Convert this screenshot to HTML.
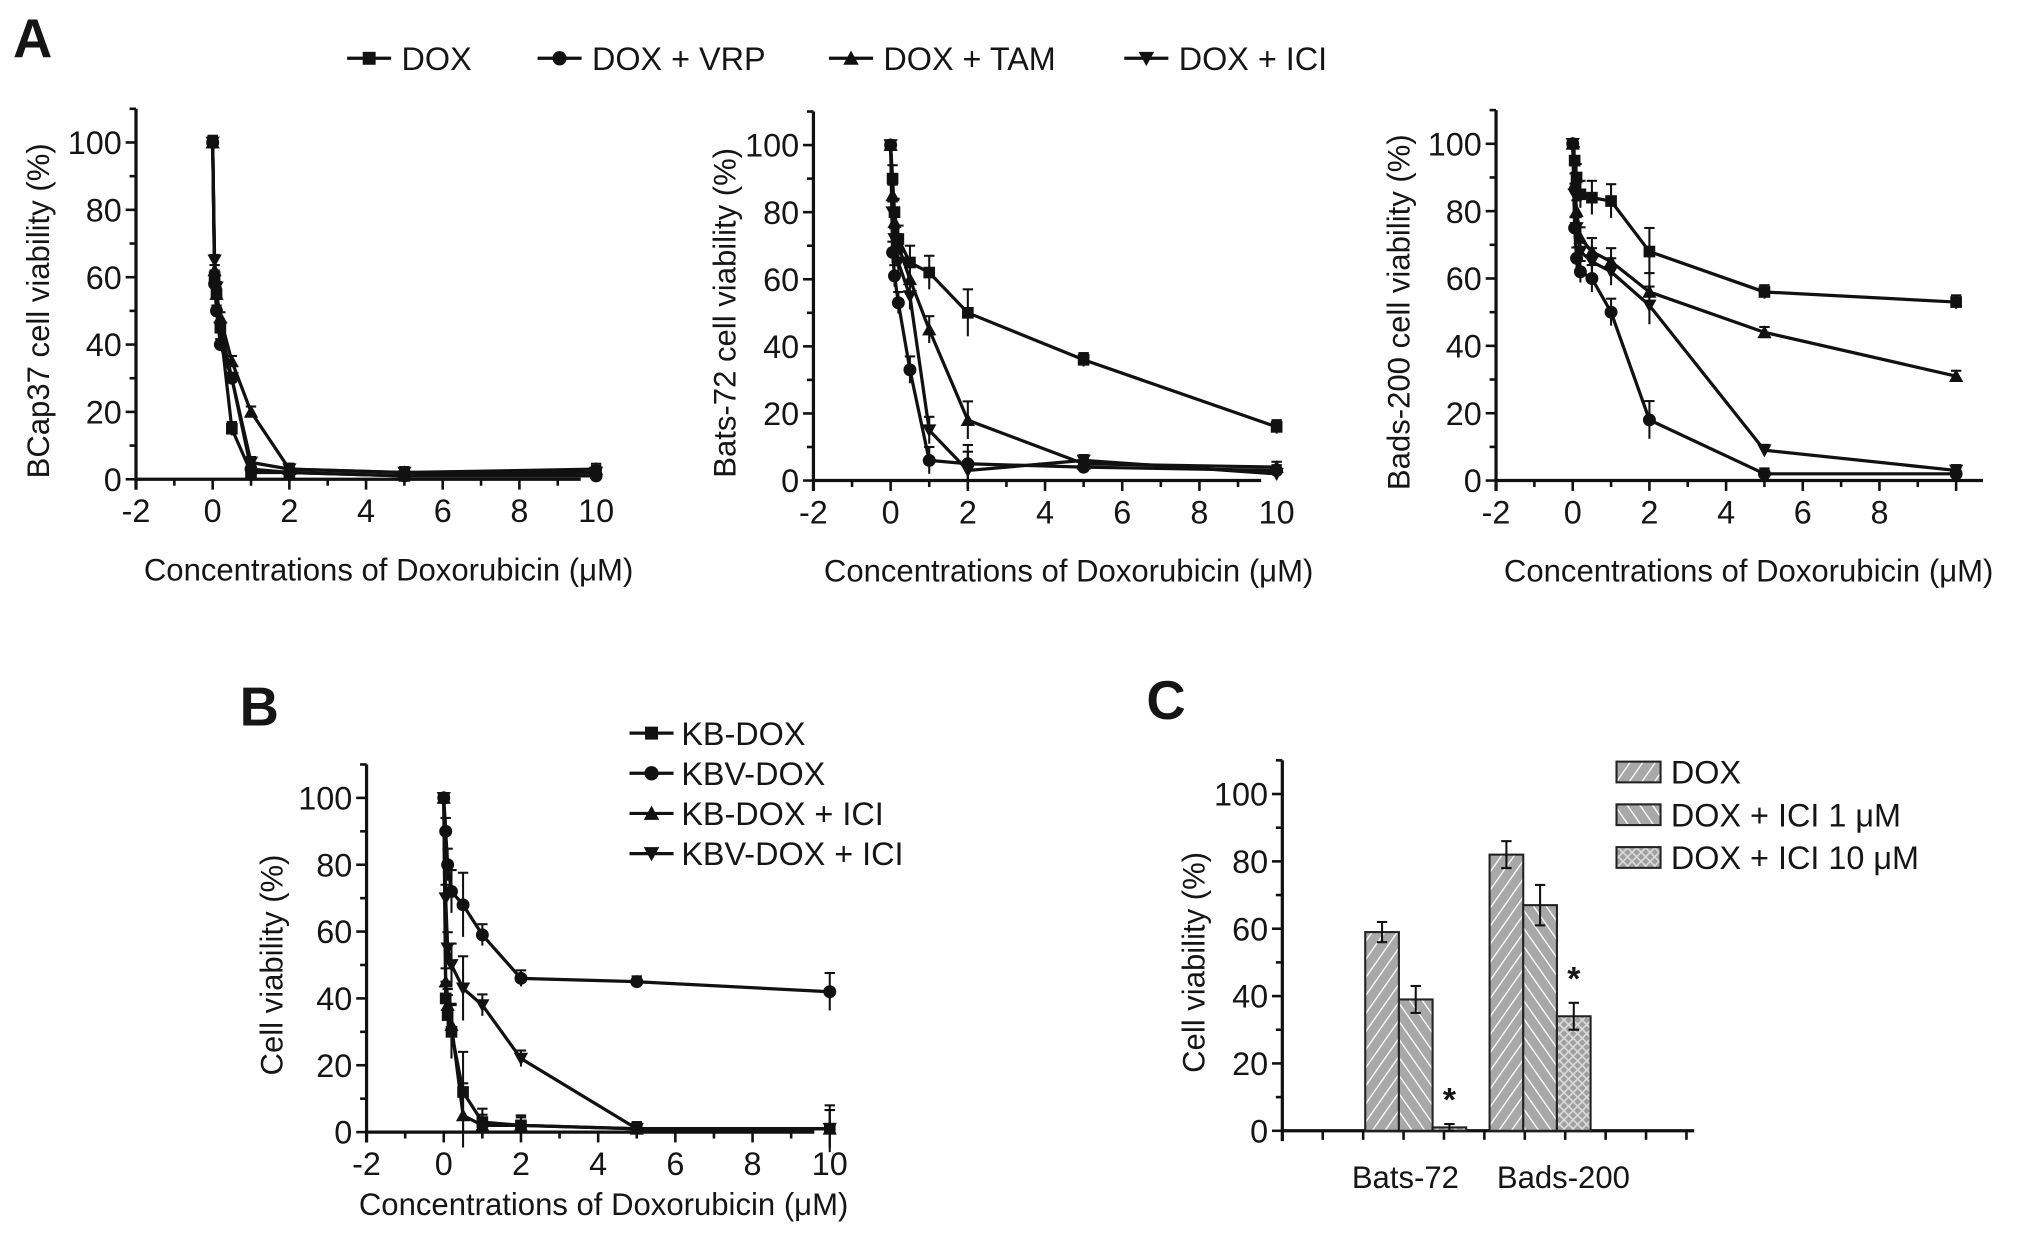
<!DOCTYPE html>
<html><head><meta charset="utf-8"><style>
html,body{margin:0;padding:0;background:#fff}
svg{display:block}
text{font-family:"Liberation Sans",Arial,sans-serif;fill:#151515}
</style></head><body>
<svg id="fig" width="2031" height="1237" viewBox="0 0 1568 955" xmlns="http://www.w3.org/2000/svg">
<defs>
<pattern id="h1" width="8" height="8" patternUnits="userSpaceOnUse" patternTransform="rotate(35)"><rect width="8" height="8" fill="#a8a8a8"/><line x1="0" y1="0" x2="0" y2="8" stroke="#fff" stroke-width="2"/></pattern>
<pattern id="h2" width="8" height="8" patternUnits="userSpaceOnUse" patternTransform="rotate(-35)"><rect width="8" height="8" fill="#a8a8a8"/><line x1="0" y1="0" x2="0" y2="8" stroke="#fff" stroke-width="2"/></pattern>
<pattern id="h3" width="7" height="7" patternUnits="userSpaceOnUse"><rect width="7" height="7" fill="#a0a0a0"/><path d="M0 0L7 7M7 0L0 7" stroke="#ddd" stroke-width="1.2"/></pattern>
</defs>
</svg>
<script>
const conc=[0,0.05,0.1,0.2,0.5,1,2,5,10];
const a1Dox=[100,60,55,45,15,2,2,1,2];
const a1Vrp=[100,58,50,40,30,3,2,1,1];
const a1Tam=[100,62,55,48,35,20,3,2,3];
const a1Ici=[100,65,57,45,30,5,3,2,2];
const a2Dox=[100,90,80,72,65,62,50,36,16];
const a2Vrp=[100,68,61,53,33,6,5,4,3];
const a2Tam=[100,85,77,70,60,45,18,5,4];
const a2Ici=[100,80,72,65,55,15,3,6,2];
const a3Dox=[100,95,90,85,84,83,68,56,53];
const a3Vrp=[100,75,66,62,60,50,18,2,2];
const a3Tam=[100,88,80,72,68,65,56,44,31];
const a3Ici=[100,85,75,68,65,62,52,9,3];
const bKb=[100,40,35,30,12,3,2,1,1];
const bKbv=[100,90,80,72,68,59,46,45,42];
const bKbIci=[100,45,38,32,5,2,2,1,1];
const bKbvIci=[100,70,55,50,43,38,22,1,1];
const a2Err=[0,4,4,4,5,5,7,2,2];
const bErr=[0,5,6,8,12,4,3,2,7];
const cGroups=["Bats-72","Bads-200"];
const cDox=[59,82],cIci1=[39,67],cIci10=[1,34];
const cErrDox=[3,4],cErrIci1=[4,6],cErrIci10=[1,4];
const xTicks=[-2,0,2,4,6,8,10];
const yTicks=[0,20,40,60,80,100];

const NS="http://www.w3.org/2000/svg";
const svg=document.getElementById('fig');
function el(t,a,p){const e=document.createElementNS(NS,t);for(const k in a)e.setAttribute(k,a[k]);(p||svg).appendChild(e);return e;}
function txt(s,a,p){const e=el('text',a,p);e.textContent=s;return e;}
function marker(g,shape,x,y,s){
  s=s||5;
  if(shape==='sq')return el('rect',{x:x-s,y:y-s,width:2*s,height:2*s,fill:'#111'},g);
  if(shape==='ci')return el('circle',{cx:x,cy:y,r:s+0.5,fill:'#111'},g);
  if(shape==='up')return el('polygon',{points:`${x},${y-s-1} ${x-s-1},${y+s} ${x+s+1},${y+s}`,fill:'#111'},g);
  return el('polygon',{points:`${x},${y+s+1} ${x-s-1},${y-s} ${x+s+1},${y-s}`,fill:'#111'},g);
}
function linePanel(o){
  const g=el('g',{});
  
  
  const X=v=>o.x0+(v+2)*o.ux, Y=v=>o.y0-v*o.uy;
  const xr=o.xr||11.6;
  el('line',{x1:X(-2),y1:o.y0,x2:X(xr-2),y2:o.y0,stroke:'#111','stroke-width':2.5},g);
  el('line',{x1:X(-2),y1:o.y0+8,x2:X(-2),y2:Y(110),stroke:'#111','stroke-width':2.5},g);
  for(let v=-2;v<=xr-2;v+=1){el('line',{x1:X(v),y1:o.y0,x2:X(v),y2:o.y0+(v%2===0?8:5),stroke:'#111','stroke-width':2},g);}
  for(let v=0;v<=110;v+=10){el('line',{x1:X(-2),y1:Y(v),x2:X(-2)-(v%20===0?8:5),y2:Y(v),stroke:'#111','stroke-width':2},g);}
  (o.xt||xTicks).forEach(t=>{const e=txt(String(t),{x:X(t),y:o.y0+33,'text-anchor':'middle','font-size':25},g);});
  yTicks.forEach(t=>{const e=txt(String(t),{x:X(-2)-11,y:Y(t)+9,'text-anchor':'end','font-size':25},g);});
  const xt=txt('Concentrations of Doxorubicin (μM)',{x:o.xtx,y:o.y0+(o.xto||78),'text-anchor':'middle','font-size':24},g);
  
  const yt=txt(o.ytitle,{x:0,y:0,'text-anchor':'middle','font-size':24,transform:`translate(${o.ytx},${Y(50)}) rotate(-90)`},g);
  
  o.series.forEach((s,i)=>{
    const sg=el('g',{},g);
    
    
    const pts=conc.map((c,j)=>X(c)+','+Y(s.v[j])).join(' ');
    el('polyline',{points:pts,fill:'none',stroke:'#111','stroke-width':2.5},sg);
    conc.forEach((c,j)=>{
      const e=(o.err?o.err[j]:2)*(i===0?1:0.8);
      if(e>0){el('line',{x1:X(c),y1:Y(s.v[j]-e),x2:X(c),y2:Y(s.v[j]+e),stroke:'#111','stroke-width':1.6},sg);
      el('line',{x1:X(c)-4,y1:Y(s.v[j]+e),x2:X(c)+4,y2:Y(s.v[j]+e),stroke:'#111','stroke-width':1.6},sg);}
      marker(sg,s.m,X(c),Y(s.v[j]),4.5);
    });
  });
}
const shapes=['sq','ci','up','dn'];
linePanel({name:'panel-a-bcap37',x0:105,y0:370,ux:29.6,uy:2.6,xtx:300,ytx:38,ytitle:'BCap37 cell viability (%)',
  series:[{label:'dox',v:a1Dox,m:'sq'},{label:'dox-vrp',v:a1Vrp,m:'ci'},{label:'dox-tam',v:a1Tam,m:'up'},{label:'dox-ici',v:a1Ici,m:'dn'}]});
linePanel({name:'panel-a-bats72',x0:628,y0:371,ux:29.8,uy:2.59,xtx:825,ytx:568,ytitle:'Bats-72 cell viability (%)',err:a2Err,
  series:[{label:'dox',v:a2Dox,m:'sq'},{label:'dox-vrp',v:a2Vrp,m:'ci'},{label:'dox-tam',v:a2Tam,m:'up'},{label:'dox-ici',v:a2Ici,m:'dn'}]});
linePanel({name:'panel-a-bads200',x0:1155,y0:371,ux:29.6,uy:2.6,xtx:1350,ytx:1088,ytitle:'Bads-200 cell viability (%)',err:a2Err,xt:[-2,0,2,4,6,8],xr:12.7,
  series:[{label:'dox',v:a3Dox,m:'sq'},{label:'dox-vrp',v:a3Vrp,m:'ci'},{label:'dox-tam',v:a3Tam,m:'up'},{label:'dox-ici',v:a3Ici,m:'dn'}]});
linePanel({name:'panel-b',x0:283,y0:874,ux:29.8,uy:2.58,xtx:466,ytx:218,ytitle:'Cell viability (%)',err:bErr,xto:64,
  series:[{label:'kb-dox',v:bKb,m:'sq'},{label:'kbv-dox',v:bKbv,m:'ci'},{label:'kb-dox-ici',v:bKbIci,m:'up'},{label:'kbv-dox-ici',v:bKbvIci,m:'dn'}]});

[['A',10,44,'panel-a-label'],['B',185,560,'panel-b-label'],['C',885,555,'panel-c-label']].forEach(a=>{
  const e=txt(a[0],{x:a[1],y:a[2],'font-size':42,'font-weight':'bold',fill:'#111'});
  
});
const legA=[['DOX',268],['DOX + VRP',415],['DOX + TAM',640],['DOX + ICI',868]];
legA.forEach((l,i)=>{
  const g=el('g',{});
  
  
  el('line',{x1:l[1],y1:45,x2:l[1]+34,y2:45,stroke:'#111','stroke-width':2.5},g);
  marker(g,shapes[i],l[1]+17,45,5);
  txt(l[0],{x:l[1]+42,y:54,'font-size':25},g);
});
['KB-DOX','KBV-DOX','KB-DOX + ICI','KBV-DOX + ICI'].forEach((l,i)=>{
  const y=566+i*31;
  const g=el('g',{});
  
  
  el('line',{x1:486,y1:y,x2:520,y2:y,stroke:'#111','stroke-width':2.5},g);
  marker(g,shapes[i],503,y,5);
  txt(l,{x:526,y:y+9,'font-size':25},g);
});
(function(){
  const g=el('g',{});
  
  
  const x0=990,y0=873,uy=2.6;
  const Y=v=>y0-v*uy;
  el('line',{x1:x0,y1:y0,x2:1308,y2:y0,stroke:'#111','stroke-width':2.5},g);
  el('line',{x1:x0,y1:y0+8,x2:x0,y2:Y(110),stroke:'#111','stroke-width':2.5},g);
  for(let x=x0;x<=1305;x+=31.2)el('line',{x1:x,y1:y0,x2:x,y2:y0+7,stroke:'#111','stroke-width':2},g);
  for(let v=0;v<=110;v+=10)el('line',{x1:x0,y1:Y(v),x2:x0-(v%20===0?8:5),y2:Y(v),stroke:'#111','stroke-width':2},g);
  yTicks.forEach(t=>{const e=txt(String(t),{x:x0-11,y:Y(t)+9,'text-anchor':'end','font-size':25},g);});
  const yt=txt('Cell viability (%)',{x:0,y:0,'text-anchor':'middle','font-size':24,transform:`translate(930,${Y(50)}) rotate(-90)`},g);
  
  const series=[[cDox,cErrDox,'url(#h1)'],[cIci1,cErrIci1,'url(#h2)'],[cIci10,cErrIci10,'url(#h3)']];
  const gx=[1054,1150],bw=26;
  cGroups.forEach((name,gi)=>{
    series.forEach((s,si)=>{
      const x=gx[gi]+si*bw,v=s[0][gi],e=s[1][gi];
      const r=el('rect',{x:x,y:Y(v),width:bw,height:v*uy,fill:s[2],stroke:'#222','stroke-width':1.6},g);
      
      
      const cx=x+bw/2;
      el('line',{x1:cx,y1:Y(v-e),x2:cx,y2:Y(v+e),stroke:'#111','stroke-width':1.6},g);
      el('line',{x1:cx-4,y1:Y(v+e),x2:cx+4,y2:Y(v+e),stroke:'#111','stroke-width':1.6},g);
      el('line',{x1:cx-4,y1:Y(v-e),x2:cx+4,y2:Y(v-e),stroke:'#111','stroke-width':1.6},g);
      if(si===2){const st=txt('*',{x:cx,y:Y(v+e)-10,'text-anchor':'middle','font-size':26,'font-weight':'bold'},g);}
    });
    const lb=txt(name,{x:gx[gi]+bw*1.5+(gi?18:-8),y:y0+44,'text-anchor':'middle','font-size':24},g);
    
  });
  ['DOX','DOX + ICI 1 μM','DOX + ICI 10 μM'].forEach((l,i)=>{
    const y=596+i*33;
    const lg=el('g',{},g);
    
    
    el('rect',{x:1248,y:y-8,width:34,height:16,fill:series[i][2],stroke:'#222','stroke-width':1.6},lg);
    txt(l,{x:1290,y:y+9,'font-size':25},lg);
  });
})();
</script>
</body></html>
